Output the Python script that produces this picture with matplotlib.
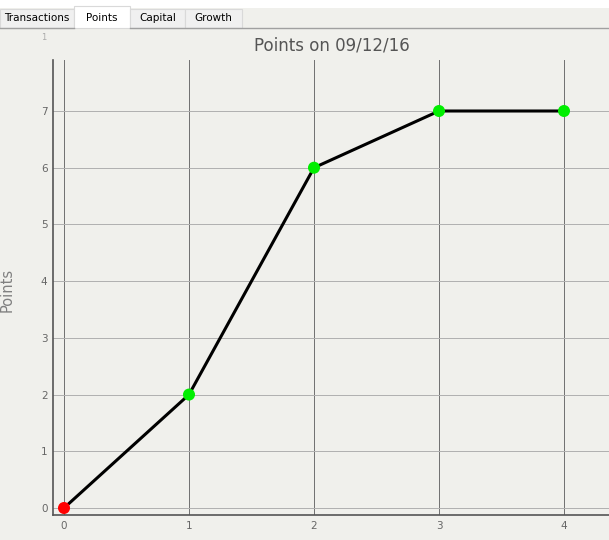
import matplotlib.pyplot as plt
from matplotlib.patches import Rectangle

days = [0, 1, 2, 3, 4]
points = [0, 2, 6, 7, 7]
colors = ['#ff0000', '#00ee00', '#00ee00', '#00ee00', '#00ee00']
tabs = ['Transactions', 'Points', 'Capital', 'Growth']
tab_edges = [0, 74, 130, 185, 242]

W, H = 609, 540
bg = '#f0f0ec'

fig = plt.figure(figsize=(W / 100, H / 100), dpi=100, facecolor=bg)

# tab bar
fig.patches.append(Rectangle((0, 1 - 8 / H), 1, 8 / H, transform=fig.transFigure,
                             facecolor='white', edgecolor='none'))
for i, name in enumerate(tabs):
    x0, x1 = tab_edges[i], tab_edges[i + 1]
    sel = name == 'Points'
    top = 6 if sel else 9
    fig.patches.append(Rectangle((x0 / W, 1 - 28 / H), (x1 - x0) / W, (28 - top) / H,
                                 transform=fig.transFigure,
                                 facecolor='#ffffff' if sel else '#f0f0f0',
                                 edgecolor='#d9d9d9', lw=0.8))
    fig.text((x0 + x1) / 2 / W, 1 - 18 / H, name, ha='center', va='center',
             fontsize=7.5, color='black')
for xa, xb in [(0, 74), (130, 609)]:
    fig.add_artist(plt.Line2D([xa / W, xb / W], [1 - 28 / H, 1 - 28 / H],
                              transform=fig.transFigure, color='#a0a0a0', lw=1))

fig.text(44 / W, 1 - 38 / H, '1', ha='center', va='center', fontsize=6, color='#aaaaaa')
fig.text(332 / W, 1 - 46 / H, 'Points on 09/12/16', ha='center', va='center',
         fontsize=12, color='#555555')
fig.text(7 / W, 1 - 290 / H, 'Points', ha='center', va='center', rotation=90,
         fontsize=10.5, color='#808080')

# axes: left spine at x=53, bottom at y=515, top at y=60, extends past right edge
left, right = 53, 640
ax = fig.add_axes([left / W, (H - 515) / H, (right - left) / W, (515 - 60) / H])
ax.set_facecolor(bg)
px_x = 125.0
px_y = (508 - 111) / 7.0
ax.set_xlim((left - 64) / px_x, (right - 64) / px_x)
ax.set_ylim(-(515 - 508) / px_y, (508 - 60) / px_y)

ax.set_xticks(days)
ax.set_yticks(range(0, 8))
for d in days:
    ax.axvline(d, color='#707070', lw=0.7, zorder=1)
for v in range(0, 8):
    ax.axhline(v, color='#b0b0b0', lw=0.7, zorder=1)

ax.plot(days, points, color='black', lw=2.2, zorder=2)
ax.scatter(days, points, c=colors, s=75, zorder=3, edgecolors='none')

for s in ['top', 'right']:
    ax.spines[s].set_visible(False)
for s in ['left', 'bottom']:
    ax.spines[s].set_color('#555555')
    ax.spines[s].set_linewidth(1.2)
ax.tick_params(length=0, labelsize=7.5, labelcolor='#666666', pad=4)

fig.savefig('out.png', dpi=100, facecolor=bg)
